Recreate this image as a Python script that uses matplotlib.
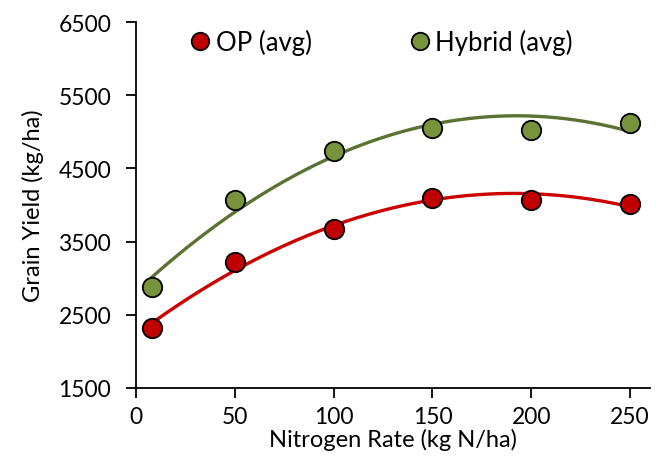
import numpy as np
import matplotlib.pyplot as plt

plt.rcParams['font.family'] = ['Lato', 'DejaVu Sans']

n_rate = [8, 50, 100, 150, 200, 250]
op_yield = [2320, 3225, 3675, 4095, 4075, 4020]
hybrid_yield = [2885, 4075, 4740, 5060, 5025, 5125]

op_fill = '#C00000'
op_line = '#CC0000'
hy_fill = '#77933C'
hy_line = '#5B7233'

fig = plt.figure(figsize=(6.61, 4.64), dpi=100)
ax = fig.add_axes([0.206, 0.162, 0.777, 0.788])

xs = np.linspace(min(n_rate), max(n_rate), 200)
for y, fc, lc, lab in [(op_yield, op_fill, op_line, 'OP (avg)'),
                       (hybrid_yield, hy_fill, hy_line, 'Hybrid (avg)')]:
    coef = np.polyfit(n_rate, y, 2)
    ax.plot(xs, np.polyval(coef, xs), color=lc, lw=2.4, zorder=2)
    ax.plot(n_rate, y, 'o', ms=14, mfc=fc, mec='black', mew=1.3,
            label=lab, zorder=3)

ax.set_xlim(0, 260)
ax.set_ylim(1500, 6500)
ax.set_xticks([0, 50, 100, 150, 200, 250])
ax.set_yticks([1500, 2500, 3500, 4500, 5500, 6500])
for s in ['top', 'right']:
    ax.spines[s].set_visible(False)
for s in ['left', 'bottom']:
    ax.spines[s].set_linewidth(1.3)
ax.tick_params(direction='out', length=7, width=1.3, labelsize=16.5)
ax.tick_params(axis='x', pad=6)
ax.tick_params(axis='y', pad=11)
ax.set_xlabel('Nitrogen Rate (kg N/ha)', fontsize=17, labelpad=1)
ax.set_ylabel('Grain Yield (kg/ha)', fontsize=17, labelpad=10)

ax.legend(loc='upper left', bbox_to_anchor=(0.055, 1.045), ncol=2, frameon=False,
          fontsize=18.5, markerscale=0.9, handletextpad=0.1, columnspacing=3.7,
          handlelength=1.0)

fig.savefig('out.png', dpi=100)
